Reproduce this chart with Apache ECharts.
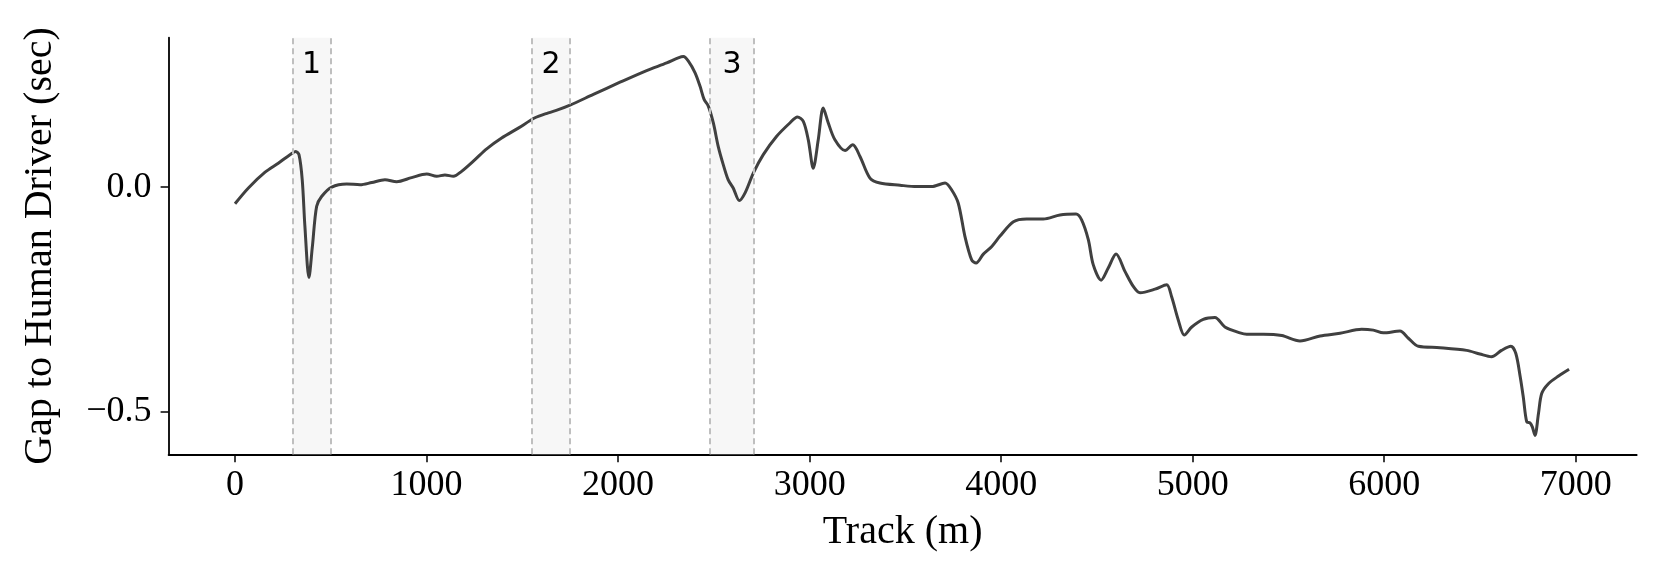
<!DOCTYPE html>
<html>
<head>
<meta charset="utf-8">
<title>Gap to Human Driver</title>
<script src="https://cdn.jsdelivr.net/npm/echarts@6.0.0/dist/echarts.min.js"></script>
<style>
  html, body { margin: 0; padding: 0; background: #fff; }
  #chart { width: 1661px; height: 581px; }
</style>
</head>
<body>
<div id="chart"></div>
<script>
// track position (m) and gap (sec)
const track = [
  0, 70, 157, 226, 287, 317, 334, 351, 365, 386, 404, 426, 452, 505, 583, 653, 714,
  783, 844, 922, 1001, 1053, 1096, 1140, 1183, 1253, 1314, 1392, 1479, 1566, 1636,
  1688, 1749, 1871, 2010, 2149, 2254, 2314, 2341, 2367, 2402, 2428, 2449, 2471, 2497,
  2523, 2549, 2575, 2601, 2633, 2663, 2706, 2758, 2828, 2898, 2936, 2967, 2993, 3019,
  3045, 3071, 3097, 3132, 3185, 3225, 3263, 3315, 3367, 3472, 3559, 3637, 3707, 3741,
  3776, 3811, 3846, 3869, 3907, 3951, 3994, 4064, 4133, 4220, 4307, 4391, 4420, 4455,
  4481, 4522, 4559, 4600, 4647, 4690, 4725, 4803, 4864, 4890, 4925, 4956, 4995, 5055,
  5116, 5168, 5247, 5282, 5369, 5465, 5560, 5665, 5769, 5882, 5943, 5995, 6082, 6126,
  6178, 6291, 6430, 6499, 6560, 6612, 6661, 6687, 6710, 6726, 6744, 6761, 6773, 6787,
  6805, 6822, 6857, 6910, 6965
];
const gap = [
  -0.037, -0.002, 0.033, 0.053, 0.072, 0.079, 0.072, 0.016, -0.088, -0.201, -0.132, -0.043, -0.021, 0.000, 0.007, 0.005, 0.010,
  0.016, 0.012, 0.021, 0.029, 0.024, 0.027, 0.024, 0.035, 0.061, 0.085, 0.109, 0.131, 0.154, 0.165,
  0.172, 0.182, 0.206, 0.233, 0.259, 0.276, 0.287, 0.290, 0.280, 0.254, 0.224, 0.195, 0.180, 0.143,
  0.090, 0.050, 0.016, -0.002, -0.030, -0.013, 0.031, 0.072, 0.113, 0.143, 0.156, 0.146, 0.105, 0.042,
  0.105, 0.176, 0.143, 0.105, 0.081, 0.094, 0.068, 0.020, 0.009, 0.004, 0.001, 0.001, 0.009, -0.006,
  -0.036, -0.110, -0.162, -0.169, -0.149, -0.132, -0.109, -0.077, -0.071, -0.071, -0.062, -0.060, -0.073, -0.117,
  -0.173, -0.207, -0.180, -0.149, -0.188, -0.221, -0.235, -0.227, -0.217, -0.244, -0.296, -0.329, -0.311, -0.294,
  -0.290, -0.311, -0.324, -0.327, -0.327, -0.330, -0.342, -0.331, -0.325, -0.316, -0.318, -0.324, -0.320, -0.336,
  -0.354, -0.357, -0.363, -0.371, -0.377, -0.363, -0.354, -0.370, -0.422, -0.467, -0.522, -0.524, -0.533, -0.552,
  -0.504, -0.459, -0.437, -0.420, -0.405
];

// highlighted sections
const spanStart = [300, 1550, 2480];
const spanEnd = [500, 1750, 2710];
const spanLabels = ["1", "2", "3"];

const xTicks = [0, 1000, 2000, 3000, 4000, 5000, 6000, 7000];
const yTicks = [-0.5, 0.0];

const serif = "'Liberation Serif', 'DejaVu Serif', serif";

const chart = echarts.init(document.getElementById("chart"), null, { renderer: "canvas" });

const lineData = track.map((t, i) => [t, gap[i]]);

const areaData = spanStart.map((s, i) => [
  { xAxis: s, name: spanLabels[i] },
  { xAxis: spanEnd[i] }
]);

const edgeLines = [];
spanStart.forEach((s, i) => {
  edgeLines.push({ xAxis: s });
  edgeLines.push({ xAxis: spanEnd[i] });
});

const option = {
  animation: false,
  backgroundColor: "#fff",
  grid: {
    left: 168.6,
    right: 24.3,
    top: 37.7,
    bottom: 126.7
  },
  xAxis: {
    type: "value",
    min: -346.7,
    max: 7318,
    name: "Track (m)",
    nameLocation: "middle",
    nameGap: 58,
    nameTextStyle: { fontFamily: serif, fontSize: 40, color: "#000" },
    axisLine: { show: true, onZero: false, lineStyle: { color: "#000", width: 1.8 } },
    axisTick: { show: true, length: 8, lineStyle: { color: "#000", width: 1.5 }, customValues: xTicks },
    axisLabel: {
      margin: 13,
      fontFamily: serif,
      fontSize: 36,
      color: "#000",
      customValues: xTicks,
      formatter: (v) => String(v)
    },
    splitLine: { show: false }
  },
  yAxis: {
    type: "value",
    min: -0.594,
    max: 0.332,
    name: "Gap to Human Driver (sec)",
    nameLocation: "middle",
    nameGap: 108,
    nameTextStyle: { fontFamily: serif, fontSize: 40, color: "#000" },
    axisLine: { show: true, onZero: false, lineStyle: { color: "#000", width: 1.8 } },
    axisTick: { show: true, length: 8, lineStyle: { color: "#000", width: 1.5 }, customValues: yTicks },
    axisLabel: {
      margin: 17,
      fontFamily: serif,
      fontSize: 36,
      color: "#000",
      customValues: yTicks,
      formatter: (v) => (v < 0 ? "\u2212" : "") + Math.abs(v).toFixed(1)
    },
    splitLine: { show: false }
  },
  series: [
    {
      type: "line",
      data: lineData,
      showSymbol: false,
      smooth: 0.3,
      lineStyle: { color: "#404040", width: 3 },
      z: 3,
      markArea: {
        silent: true,
        itemStyle: { color: "#f7f7f7" },
        label: {
          show: true,
          position: "insideTop",
          distance: 13,
          fontFamily: "'DejaVu Sans', sans-serif",
          fontSize: 30,
          color: "#000",
          formatter: "{b}"
        },
        data: areaData
      },
      markLine: {
        silent: true,
        symbol: "none",
        label: { show: false },
        lineStyle: { color: "#bfbfbf", width: 2, type: [6, 4] },
        data: edgeLines
      }
    }
  ]
};

chart.setOption(option);
</script>
</body>
</html>
